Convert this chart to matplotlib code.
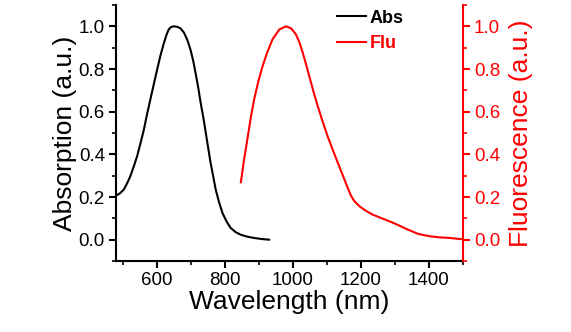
import matplotlib
matplotlib.use("Agg")
import matplotlib.pyplot as plt
from matplotlib.ticker import MultipleLocator

plt.rcParams['font.family'] = ['Liberation Sans', 'DejaVu Sans']

abs_wl = [478, 490, 503, 512, 522, 532, 542, 552, 562, 571, 581, 591, 601, 611, 621, 628, 635, 642, 650, 660, 670, 680, 690, 699, 707, 714, 722, 729, 737, 744, 751, 758, 766, 773, 783, 793, 805, 817, 832, 847, 866, 886, 908, 930]
abs_val = [0.206, 0.215, 0.235, 0.262, 0.297, 0.342, 0.391, 0.452, 0.516, 0.586, 0.657, 0.728, 0.798, 0.865, 0.923, 0.958, 0.986, 0.997, 1.0, 0.998, 0.99, 0.97, 0.935, 0.89, 0.838, 0.78, 0.71, 0.64, 0.57, 0.50, 0.43, 0.36, 0.295, 0.235, 0.175, 0.125, 0.085, 0.055, 0.035, 0.023, 0.014, 0.008, 0.003, 0.0]

flu_wl = [847, 856, 866, 876, 886, 898, 911, 925, 940, 960, 980, 995, 1009, 1019, 1029, 1039, 1048, 1060, 1073, 1087, 1102, 1117, 1132, 1147, 1161, 1171, 1181, 1196, 1215, 1235, 1260, 1284, 1310, 1334, 1368, 1402, 1430, 1461, 1491, 1500]
flu_val = [0.269, 0.37, 0.47, 0.57, 0.657, 0.74, 0.814, 0.88, 0.939, 0.985, 1.0, 0.99, 0.962, 0.925, 0.876, 0.82, 0.767, 0.697, 0.626, 0.556, 0.485, 0.422, 0.36, 0.30, 0.243, 0.205, 0.18, 0.156, 0.135, 0.117, 0.101, 0.086, 0.068, 0.05, 0.027, 0.016, 0.011, 0.008, 0.003, 0.002]

fig = plt.figure(figsize=(5.71, 3.32), dpi=100)
ax = fig.add_axes([116/571, 1-261/332, (463-116)/571, (261-5)/332])
ax2 = ax.twinx()

l1, = ax.plot(abs_wl, abs_val, color='black', lw=1.5, label='Abs')
l2, = ax2.plot(flu_wl, flu_val, color='red', lw=1.5, label='Flu')

ax.set_xlim(480, 1500)
ax.set_ylim(-0.1, 1.1)
ax2.set_ylim(-0.1, 1.1)

ax.set_xticks([600, 800, 1000, 1200, 1400])
ax.xaxis.set_minor_locator(MultipleLocator(100))
ax.set_yticks([0.0, 0.2, 0.4, 0.6, 0.8, 1.0])
ax.yaxis.set_minor_locator(MultipleLocator(0.1))
ax2.set_yticks([0.0, 0.2, 0.4, 0.6, 0.8, 1.0])
ax2.yaxis.set_minor_locator(MultipleLocator(0.1))

for a in (ax, ax2):
    a.spines['top'].set_visible(False)
    for s in a.spines.values():
        s.set_linewidth(1.5)
ax.spines['right'].set_visible(False)
ax2.spines['left'].set_visible(False)
ax2.spines['bottom'].set_visible(False)
ax2.spines['right'].set_color('red')

ax.tick_params(axis='both', which='major', direction='out', length=5, width=1.5, labelsize=13.5, pad=3)
ax.tick_params(axis='both', which='minor', direction='out', length=3, width=1.2)
ax2.tick_params(axis='y', which='major', direction='out', length=5, width=1.5, labelsize=13.5, colors='red', pad=3)
ax2.tick_params(axis='y', which='minor', direction='out', length=3, width=1.2, colors='red')

ax.yaxis.set_major_formatter(plt.FuncFormatter(lambda v, p: f"{v:.1f}"))
ax2.yaxis.set_major_formatter(plt.FuncFormatter(lambda v, p: f"{v:.1f}"))

ax.set_xlabel('Wavelength (nm)', fontsize=19, labelpad=1)
ax.set_ylabel('Absorption (a.u.)', fontsize=19, labelpad=1)
ax2.set_ylabel('Fluorescence (a.u.)', fontsize=19, color='red', labelpad=6)

leg = ax.legend(handles=[l1, l2], loc='upper left', bbox_to_anchor=(0.59, 1.045), frameon=False,
                prop={'weight': 'bold', 'size': 13}, handlelength=1.6, handletextpad=0.2, labelspacing=0.45)
for t, c in zip(leg.get_texts(), ['black', 'red']):
    t.set_color(c)

fig.savefig('out.png', dpi=100)
